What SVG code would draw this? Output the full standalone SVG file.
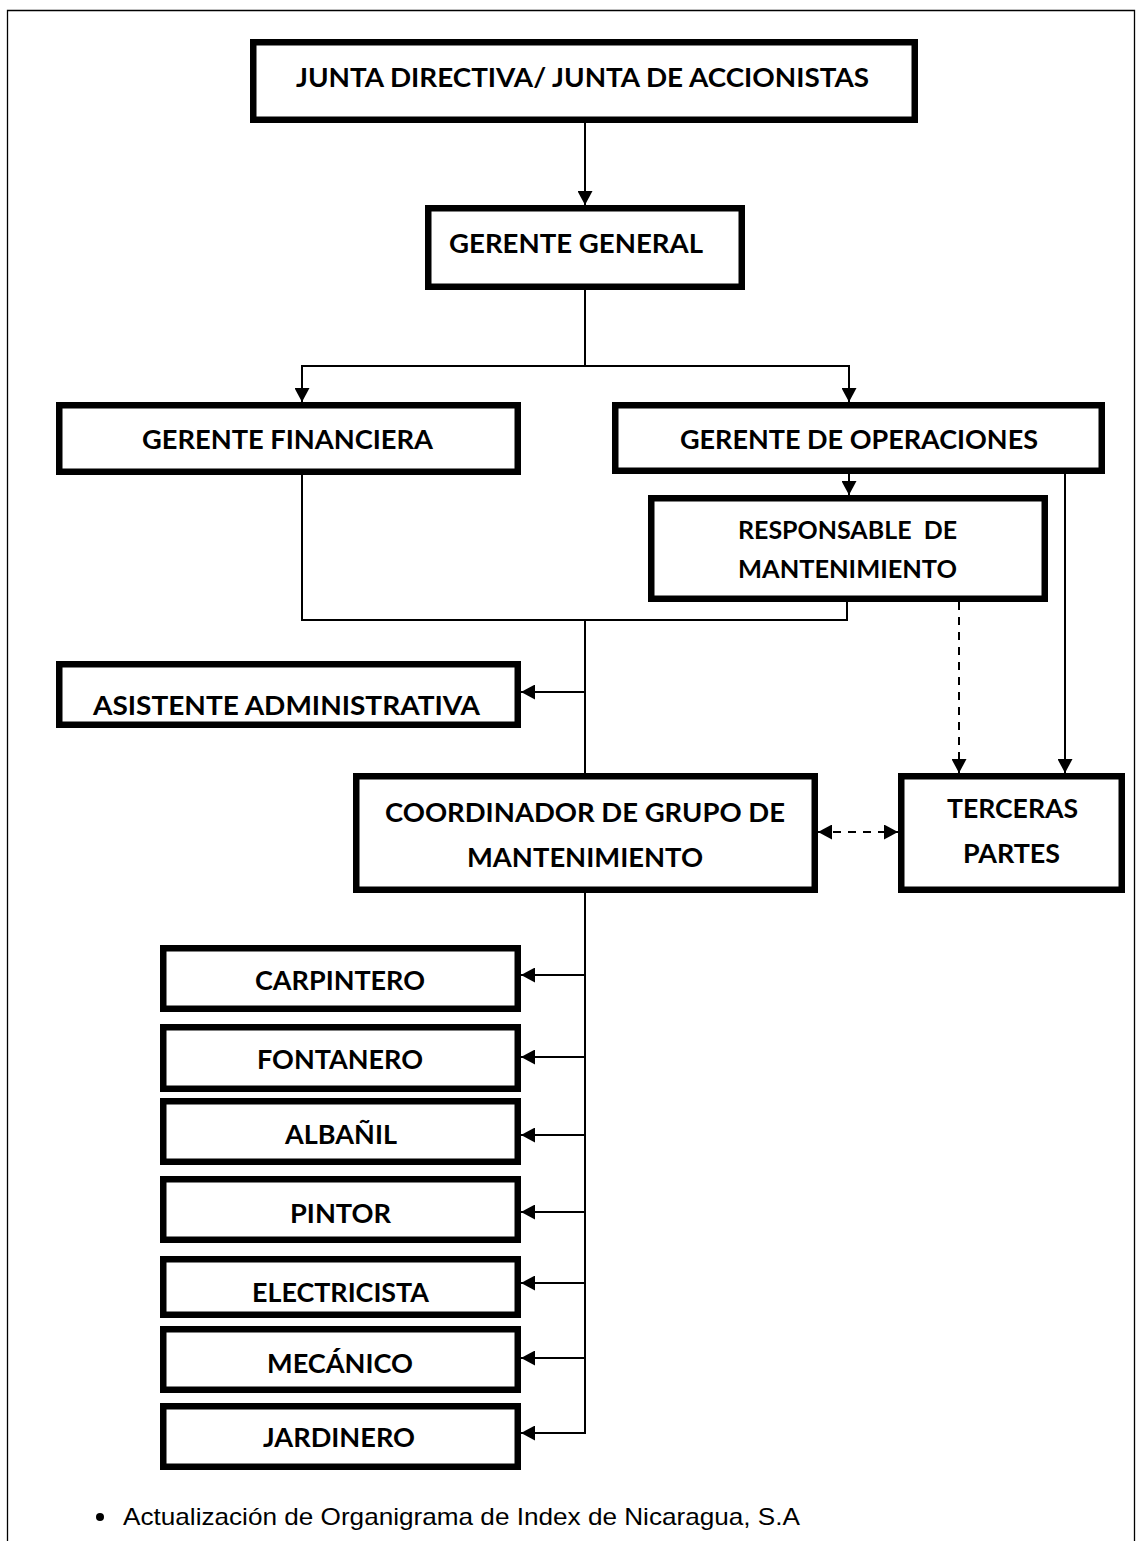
<svg xmlns="http://www.w3.org/2000/svg" width="1136" height="1541" viewBox="0 0 1136 1541">
<style>
.box{fill:#fff;stroke:#000;stroke-width:6.5}
.t{font-family:Lato,"Open Sans","Liberation Sans",sans-serif;font-weight:bold;font-size:27px;fill:#000}
.ts{font-size:25px}
.c{fill:none;stroke:#000;stroke-width:2}
.d{stroke-dasharray:8 7}
.foot{font-family:"Liberation Sans",Arial,sans-serif;font-size:24px;fill:#000}
</style>
<defs>
<marker id="ah" markerUnits="userSpaceOnUse" markerWidth="14" markerHeight="15" refX="14" refY="7.5" orient="auto-start-reverse">
<path d="M0,0 L14,7.5 L0,15 z" fill="#000"/>
</marker>
</defs>
<rect width="1136" height="1541" fill="#fff"/>
<path d="M7.5,1541 V10.5 H1134.5 V1541" fill="none" stroke="#000" stroke-width="1.3"/>

<g id="connectors">
<path class="c" d="M585,123 V205" marker-end="url(#ah)"/>
<path class="c" d="M585,290 V366 H302 V402" marker-end="url(#ah)"/>
<path class="c" d="M585,366 H849 V402" marker-end="url(#ah)"/>
<path class="c" d="M849,474 V495" marker-end="url(#ah)"/>
<path class="c" d="M1065,474 V773" marker-end="url(#ah)"/>
<path class="c d" d="M959,602 V773" marker-end="url(#ah)"/>
<path class="c" d="M302,475 V620 H847 V602"/>
<path class="c" d="M585,620 V773"/>
<path class="c" d="M585,692 H521" marker-end="url(#ah)"/>
<path class="c d" d="M818,832 H898" marker-start="url(#ah)" marker-end="url(#ah)"/>
<path class="c" d="M585,893 V1433"/>
<path class="c" d="M585,975 H521" marker-end="url(#ah)"/>
<path class="c" d="M585,1057 H521" marker-end="url(#ah)"/>
<path class="c" d="M585,1135 H521" marker-end="url(#ah)"/>
<path class="c" d="M585,1212 H521" marker-end="url(#ah)"/>
<path class="c" d="M585,1283 H521" marker-end="url(#ah)"/>
<path class="c" d="M585,1358 H521" marker-end="url(#ah)"/>
<path class="c" d="M586,1433 H521" marker-end="url(#ah)"/>
</g>

<g id="junta">
<rect class="box" x="253.25" y="42.25" width="661.5" height="77.5"/>
<text class="t" x="296" y="87" textLength="573" lengthAdjust="spacingAndGlyphs">JUNTA DIRECTIVA/ JUNTA DE ACCIONISTAS</text>
</g>
<g id="gerente-general">
<rect class="box" x="428.25" y="208.25" width="313.5" height="78.5"/>
<text class="t" x="449" y="253" textLength="254" lengthAdjust="spacingAndGlyphs">GERENTE GENERAL</text>
</g>
<g id="gerente-financiera">
<rect class="box" x="59.25" y="405.25" width="458.5" height="66.5"/>
<text class="t" x="142" y="449" textLength="291" lengthAdjust="spacingAndGlyphs">GERENTE FINANCIERA</text>
</g>
<g id="gerente-operaciones">
<rect class="box" x="615.25" y="405.25" width="486.5" height="65.5"/>
<text class="t" x="680" y="449" textLength="358" lengthAdjust="spacingAndGlyphs">GERENTE DE OPERACIONES</text>
</g>
<g id="responsable-mantenimiento">
<rect class="box" x="651.25" y="498.25" width="393.5" height="100.5"/>
<text class="t ts" x="738" y="539" textLength="219" lengthAdjust="spacingAndGlyphs" xml:space="preserve">RESPONSABLE  DE</text>
<text class="t ts" x="738" y="578" textLength="219" lengthAdjust="spacingAndGlyphs">MANTENIMIENTO</text>
</g>
<g id="asistente-administrativa">
<rect class="box" x="59.25" y="664.25" width="458.5" height="60.5"/>
<text class="t" x="93" y="715" textLength="387" lengthAdjust="spacingAndGlyphs">ASISTENTE ADMINISTRATIVA</text>
</g>
<g id="coordinador">
<rect class="box" x="356.25" y="776.25" width="458.5" height="113.5"/>
<text class="t" x="385" y="822" textLength="400" lengthAdjust="spacingAndGlyphs">COORDINADOR DE GRUPO DE</text>
<text class="t" x="467" y="867" textLength="236" lengthAdjust="spacingAndGlyphs">MANTENIMIENTO</text>
</g>
<g id="terceras-partes">
<rect class="box" x="901.25" y="776.25" width="220.5" height="113.5"/>
<text class="t" x="947" y="818" textLength="131" lengthAdjust="spacingAndGlyphs">TERCERAS</text>
<text class="t" x="963" y="863" textLength="97" lengthAdjust="spacingAndGlyphs">PARTES</text>
</g>
<g id="carpintero">
<rect class="box" x="163.25" y="948.25" width="354.5" height="60.5"/>
<text class="t" x="255" y="990" textLength="170" lengthAdjust="spacingAndGlyphs">CARPINTERO</text>
</g>
<g id="fontanero">
<rect class="box" x="163.25" y="1027.25" width="354.5" height="61.5"/>
<text class="t" x="257" y="1069" textLength="166" lengthAdjust="spacingAndGlyphs">FONTANERO</text>
</g>
<g id="albanil">
<rect class="box" x="163.25" y="1101.25" width="354.5" height="60.5"/>
<text class="t" x="285" y="1144" textLength="112" lengthAdjust="spacingAndGlyphs">ALBAÑIL</text>
</g>
<g id="pintor">
<rect class="box" x="163.25" y="1179.25" width="354.5" height="60.5"/>
<text class="t" x="290" y="1223" textLength="101" lengthAdjust="spacingAndGlyphs">PINTOR</text>
</g>
<g id="electricista">
<rect class="box" x="163.25" y="1259.25" width="354.5" height="55.5"/>
<text class="t" x="252" y="1302" textLength="177" lengthAdjust="spacingAndGlyphs">ELECTRICISTA</text>
</g>
<g id="mecanico">
<rect class="box" x="163.25" y="1329.25" width="354.5" height="60.5"/>
<text class="t" x="267" y="1373" textLength="146" lengthAdjust="spacingAndGlyphs">MECÁNICO</text>
</g>
<g id="jardinero">
<rect class="box" x="163.25" y="1406.25" width="354.5" height="60.5"/>
<text class="t" x="263" y="1447" textLength="152" lengthAdjust="spacingAndGlyphs">JARDINERO</text>
</g>

<g id="footer">
<circle cx="100" cy="1517" r="4" fill="#000"/>
<text class="foot" x="123" y="1525" textLength="677" lengthAdjust="spacingAndGlyphs">Actualización de Organigrama de Index de Nicaragua, S.A</text>
</g>
</svg>
